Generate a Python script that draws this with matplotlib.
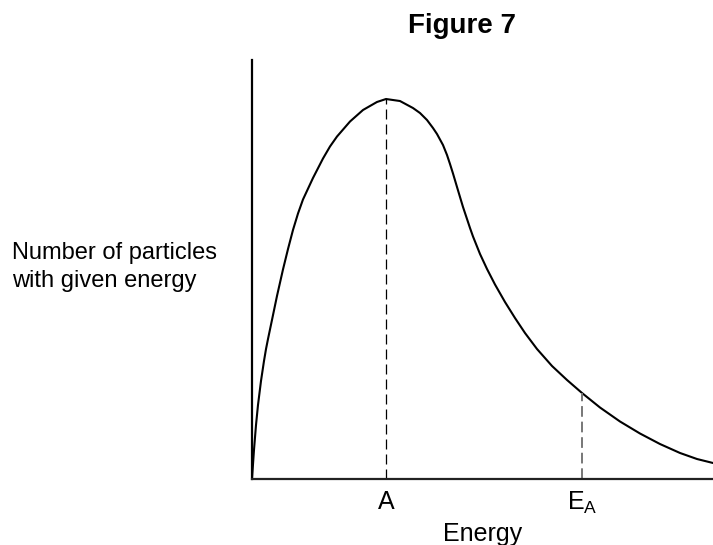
import matplotlib
matplotlib.use('Agg')
import matplotlib.pyplot as plt

plt.rcParams['font.family'] = ['Liberation Sans', 'DejaVu Sans']
plt.rcParams['mathtext.fontset'] = 'custom'
plt.rcParams['mathtext.rm'] = 'Liberation Sans'
plt.rcParams['mathtext.it'] = 'Liberation Sans'

# Distribution curve (arbitrary units, 0-100)
energy = [0, 0.22, 0.43, 0.87, 1.30, 1.95, 2.60, 3.04, 3.47, 4.56, 5.42, 6.72,
          7.81, 8.89, 9.98, 11.06, 13.23, 15.40, 16.92, 18.44, 21.26, 24.08,
          27.11, 29.07, 32.10, 34.92, 36.44, 37.96, 39.26, 40.13, 41.43, 42.30,
          42.95, 43.60, 44.47, 45.12, 45.77, 46.64, 47.29, 47.94, 49.46, 50.98,
          52.71, 54.88, 57.05, 59.22, 61.82, 65.08, 68.33, 71.58, 75.49, 79.83,
          84.16, 88.50, 92.84, 96.53, 100]
particles = [0, 3.58, 6.92, 12.89, 17.66, 23.39, 28.16, 31.03, 33.41, 39.14,
             43.68, 50.00, 54.89, 59.43, 63.37, 66.71, 71.84, 76.49, 79.36,
             81.74, 85.32, 88.07, 89.98, 90.69, 90.21, 88.54, 87.35, 85.68,
             83.77, 82.34, 79.71, 77.33, 75.18, 72.91, 69.69, 67.30, 64.92,
             62.05, 59.90, 57.88, 53.70, 50.12, 46.42, 42.24, 38.42, 34.84,
             31.03, 26.97, 23.63, 20.53, 17.06, 13.72, 10.86, 8.35, 6.21, 4.77,
             3.82]

peak_energy = 29.07
peak_value = 90.69
activation_energy = 71.58
activation_value = 20.53

tick_positions = [peak_energy, activation_energy]
tick_labels = ['A', r'E$_{\mathregular{A}}$']

fig = plt.figure(figsize=(7.13, 5.45), dpi=100)
ax = fig.add_axes([252 / 713, 1 - 479 / 545, 1 - 252 / 713, (479 - 60) / 545])

ax.plot(energy, particles, color='black', lw=1.5, solid_joinstyle='round',
        solid_capstyle='round')
ax.plot([peak_energy, peak_energy], [0, peak_value], color='black', lw=0.9,
        dashes=(8, 4))
ax.plot([activation_energy, activation_energy], [0, activation_value],
        color='#777777', lw=1.4, dashes=(5.5, 2.5))

ax.set_xlim(0, 100)
ax.set_ylim(0, 100)
for s in ['top', 'right']:
    ax.spines[s].set_visible(False)
for s in ['left', 'bottom']:
    ax.spines[s].set_linewidth(1.6)
    ax.spines[s].set_color('black')
ax.spines['bottom'].set_color('#222222')

ax.set_xticks(tick_positions, tick_labels, fontsize=18)
ax.tick_params(axis='x', length=0, pad=8)
ax.set_yticks([])
ax.set_xlabel('Energy', fontsize=18, labelpad=4)

fig.text(12 / 713, 1 - 267 / 545, 'Number of particles\nwith given energy',
         fontsize=17, ha='left', va='center', linespacing=1.3)
fig.text(462 / 713, 1 - 26 / 545, 'Figure 7', fontsize=20, fontweight='bold',
         ha='center', va='center')

fig.savefig('out.png', dpi=100)
